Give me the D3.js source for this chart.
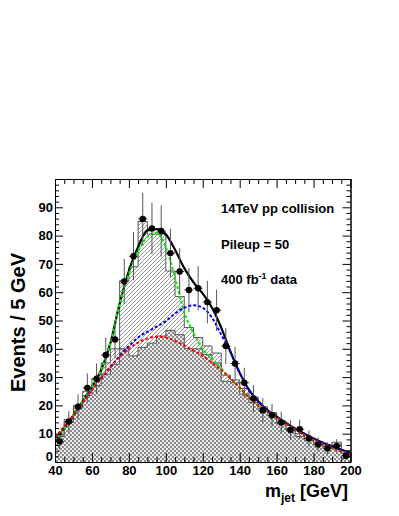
<!DOCTYPE html>
<html lang="en">
<head>
<meta charset="UTF-8">
<title>m_jet fit</title>
<script src="https://cdn.jsdelivr.net/npm/d3@7"></script>
<style>
  body { margin: 0; background: #fff; }
  svg { display: block; font-family: "Liberation Sans", Arial, sans-serif; font-weight: bold; }
</style>
</head>
<body>
<script>
// bins (lower edge, GeV), 5 GeV wide
const binLow = [40, 45, 50, 55, 60, 65, 70, 75, 80, 85, 90, 95, 100, 105, 110, 115,
                120, 125, 130, 135, 140, 145, 150, 155, 160, 165, 170, 175, 180, 185, 190, 195];
// pseudo-data points
const dataCounts = [7.3, 14.3, 19.5, 26.2, 29.4, 37.8, 43.3, 63.8, 72.7, 85.9, 82.5, 81.6, 73.8, 67.3, 60.8, 61.4,
                    56.5, 53.6, 41.0, 34.8, 28.0, 22.4, 18.3, 16.5, 14.0, 11.3, 11.6, 8.3, 6.2, 4.8, 5.7, 2.2];
// signal + background histogram (hatched)
const totalHist = [9.5, 15, 20, 25, 29.5, 35, 40, 64, 69, 85, 80.5, 80.5, 67.5, 58.5, 47.5, 44,
                   41, 38.5, 30.7, 29, 26, 23, 19.5, 17.5, 14.5, 12, 10, 8.5, 7, 6, 7, 4];
// background histogram (checkered)
const bgHist = [9, 14, 19, 23.5, 27, 31, 34.5, 40, 37.5, 40.5, 42, 44.5, 46.5, 45, 40, 40,
                38, 35, 28.5, 28, 24, 21, 19, 17.2, 13.6, 11.3, 9, 7.7, 6.6, 5.4, 6, 3.1];

// fit curves, sampled every 5 GeV
const fitMass = [40, 45, 50, 55, 60, 65, 70, 75, 80, 85, 90, 95, 100, 105, 110, 115, 120,
                 125, 130, 135, 140, 145, 150, 155, 160, 165, 170, 175, 180, 185, 190, 195, 200];
const fitTotal = [7.5, 12, 16.5, 21.5, 26.5, 32.5, 42, 56, 67.5, 76, 81.8, 82.3, 80.5, 75, 68.5, 63.5, 59.5,
                  54.5, 47.5, 39, 31.5, 25.5, 21.5, 18.3, 16, 13.8, 11.8, 10, 8.3, 6.8, 5.5, 4.3, 3.2];
const fitGreen = [7.5, 12, 16.5, 21.5, 26.5, 32.5, 42, 56, 66.5, 74.5, 79.5, 81, 76, 65, 53, 45.5, 40,
                  36.5, 33, 29.5, 26.3, 23, 20.2, 18, 15.8, 13.5, 11.5, 9.6, 7.9, 6.4, 5.1, 3.8, 2.7];
const fitBlue = [8.5, 12.5, 16.5, 21, 25.5, 29.5, 33.5, 37.5, 41, 44, 46, 47.8, 49.8, 52.5, 54.5, 55.4, 54.5,
                 51, 45, 38.8, 31.5, 25.5, 21.5, 18.3, 16, 13.8, 11.8, 10, 8.3, 6.8, 5.5, 4.3, 3.2];
const fitBkg = [8.5, 12.5, 16.5, 21, 25.5, 29.5, 33.5, 37, 40, 42.2, 43.6, 44.3, 44, 42.8, 41.2, 39.3, 37.5,
                35, 32.5, 29.5, 26.2, 22.8, 20, 17.8, 15.8, 13.5, 11.5, 9.5, 7.8, 6.3, 5, 3.7, 2.6];

const xMajor = [40, 60, 80, 100, 120, 140, 160, 180, 200];
const yMajor = [0, 10, 20, 30, 40, 50, 60, 70, 80, 90, 100];
const notes = ["14TeV pp collision", "Pileup = 50"];

const width = 399, height = 516;
const pL = 55, pR = 350.5, pT = 179, pB = 462; // plot frame

const x = d3.scaleLinear().domain([40, 200]).range([pL, pR]);
const y = d3.scaleLinear().domain([0, 100]).range([pB, pT]);

const svg = d3.select("body").append("svg")
    .attr("width", width)
    .attr("height", height);

svg.append("rect").attr("width", width).attr("height", height).attr("fill", "#fff");

const defs = svg.append("defs");
// hatch for signal part
const hatch = defs.append("pattern")
    .attr("id", "hatch")
    .attr("patternUnits", "userSpaceOnUse")
    .attr("width", 4).attr("height", 4);
hatch.append("rect").attr("width", 4).attr("height", 4).attr("fill", "#fff");
hatch.append("path")
    .attr("d", "M-1,1 l2,-2 M0,4 l4,-4 M3,5 l2,-2")
    .attr("stroke", "#555").attr("stroke-width", 0.6);
// checker for background
const checker = defs.append("pattern")
    .attr("id", "checker")
    .attr("patternUnits", "userSpaceOnUse")
    .attr("width", 4).attr("height", 4);
checker.append("rect").attr("width", 4).attr("height", 4).attr("fill", "#eeeeee");
checker.append("rect").attr("width", 2).attr("height", 2).attr("fill", "#8a8a8a");
checker.append("rect").attr("x", 2).attr("y", 2).attr("width", 2).attr("height", 2).attr("fill", "#8a8a8a");

defs.append("clipPath").attr("id", "frame")
  .append("rect").attr("x", pL).attr("y", pT).attr("width", pR - pL).attr("height", pB - pT);

// step data: one point per bin plus the closing edge
function steps(vals) {
    const pts = binLow.map((b, i) => [b, vals[i]]);
    pts.push([200, vals[vals.length - 1]]);
    return pts;
}

const area = d3.area()
    .curve(d3.curveStepAfter)
    .x(d => x(d[0]))
    .y0(y(0))
    .y1(d => y(d[1]));
const stepLine = d3.line()
    .curve(d3.curveStepAfter)
    .x(d => x(d[0]))
    .y(d => y(d[1]));

const plot = svg.append("g").attr("clip-path", "url(#frame)");

// total histogram (hatched), then background on top of it
plot.append("path").datum(steps(totalHist))
    .attr("d", area).attr("fill", "url(#hatch)");
plot.append("path").datum(steps(totalHist))
    .attr("d", stepLine).attr("fill", "none").attr("stroke", "#555").attr("stroke-width", 1);
plot.append("path").datum(steps(bgHist))
    .attr("d", area).attr("fill", "url(#checker)");
plot.append("path").datum(steps(bgHist))
    .attr("d", stepLine).attr("fill", "none").attr("stroke", "#555").attr("stroke-width", 1);

// fit curves
const curve = d3.line()
    .curve(d3.curveMonotoneX)
    .x((d, i) => x(fitMass[i]))
    .y(d => y(d));

plot.append("path").datum(fitTotal).attr("d", curve)
    .attr("fill", "none").attr("stroke", "#000").attr("stroke-width", 2.2);
plot.append("path").datum(fitGreen).attr("d", curve)
    .attr("fill", "none").attr("stroke", "#00ee00").attr("stroke-width", 2).attr("stroke-dasharray", "3,2");
plot.append("path").datum(fitBlue).attr("d", curve)
    .attr("fill", "none").attr("stroke", "#0000ff").attr("stroke-width", 2).attr("stroke-dasharray", "3,2");
plot.append("path").datum(fitBkg).attr("d", curve)
    .attr("fill", "none").attr("stroke", "#ff0000").attr("stroke-width", 2).attr("stroke-dasharray", "3,2");

// data points with sqrt(N) errors
const pts = plot.append("g").selectAll("g")
    .data(binLow.map((b, i) => ({ m: b + 2.5, n: dataCounts[i] })))
    .join("g");
pts.append("line")
    .attr("x1", d => x(d.m)).attr("x2", d => x(d.m))
    .attr("y1", d => y(d.n + Math.sqrt(d.n))).attr("y2", d => y(d.n - Math.sqrt(d.n)))
    .attr("stroke", "#555").attr("stroke-width", 1);
pts.append("line")
    .attr("x1", d => x(d.m - 2.5)).attr("x2", d => x(d.m + 2.5))
    .attr("y1", d => y(d.n)).attr("y2", d => y(d.n))
    .attr("stroke", "#333").attr("stroke-width", 1);
pts.append("circle")
    .attr("cx", d => x(d.m)).attr("cy", d => y(d.n)).attr("r", 3.2).attr("fill", "#000");

// axes, ticks pointing inward
const yMinor = d3.range(0, 101, 2).filter(v => v % 10 !== 0);
const xMinor = d3.range(40, 201, 5).filter(v => v % 20 !== 0);

function axisGroup(axis, tx, ty) {
    return svg.append("g").attr("transform", `translate(${tx},${ty})`).call(axis);
}

axisGroup(d3.axisLeft(y).tickValues(yMinor).tickSizeInner(-4).tickSizeOuter(0).tickFormat(""), pL, 0);
const yAx = axisGroup(d3.axisLeft(y).tickValues(yMajor).tickSizeInner(-8).tickSizeOuter(0)
    .tickPadding(2).tickFormat(v => v === 100 ? "" : v), pL, 0);
axisGroup(d3.axisRight(y).tickValues(yMinor).tickSizeInner(-4).tickSizeOuter(0).tickFormat(""), pR, 0);
axisGroup(d3.axisRight(y).tickValues(yMajor).tickSizeInner(-8).tickSizeOuter(0).tickFormat(""), pR, 0);

axisGroup(d3.axisBottom(x).tickValues(xMinor).tickSizeInner(-5).tickSizeOuter(0).tickFormat(""), 0, pB);
axisGroup(d3.axisBottom(x).tickValues(xMajor).tickSizeInner(-9).tickSizeOuter(0)
    .tickPadding(4), 0, pB);
axisGroup(d3.axisTop(x).tickValues(xMinor).tickSizeInner(-5).tickSizeOuter(0).tickFormat(""), 0, pT);
axisGroup(d3.axisTop(x).tickValues(xMajor).tickSizeInner(-9).tickSizeOuter(0).tickFormat(""), 0, pT);

svg.selectAll(".domain").attr("stroke", "#000");
svg.selectAll(".tick line").attr("stroke", "#000");
svg.selectAll(".tick text")
    .attr("font-size", 13).attr("font-weight", "bold")
    .attr("font-family", "'Liberation Sans', Arial, sans-serif").attr("fill", "#000");
// the "0" sits just above the "40" of the mass axis
yAx.selectAll(".tick text").filter(d => d === 0).attr("dy", "-0.1em");

// axis titles
svg.append("text")
    .attr("transform", `translate(25,${(pT + pB) / 2 + 2}) rotate(-90)`)
    .attr("text-anchor", "middle")
    .attr("font-size", 20)
    .text("Events / 5 GeV");

const xt = svg.append("text")
    .attr("x", 348).attr("y", 497)
    .attr("text-anchor", "end")
    .attr("font-size", 18);
xt.append("tspan").text("m");
xt.append("tspan").attr("font-size", 12).attr("dy", 5).text("jet");
xt.append("tspan").attr("dy", -5).text(" [GeV]");

// annotations
svg.append("text").attr("x", 221).attr("y", 213).attr("font-size", 13).text(notes[0]);
svg.append("text").attr("x", 221).attr("y", 249).attr("font-size", 13).text(notes[1]);
const lumi = svg.append("text").attr("x", 221).attr("y", 284).attr("font-size", 13);
lumi.append("tspan").text("400 fb");
lumi.append("tspan").attr("font-size", 9).attr("dy", -5).text("-1");
lumi.append("tspan").attr("dy", 5).text(" data");
</script>
</body>
</html>
